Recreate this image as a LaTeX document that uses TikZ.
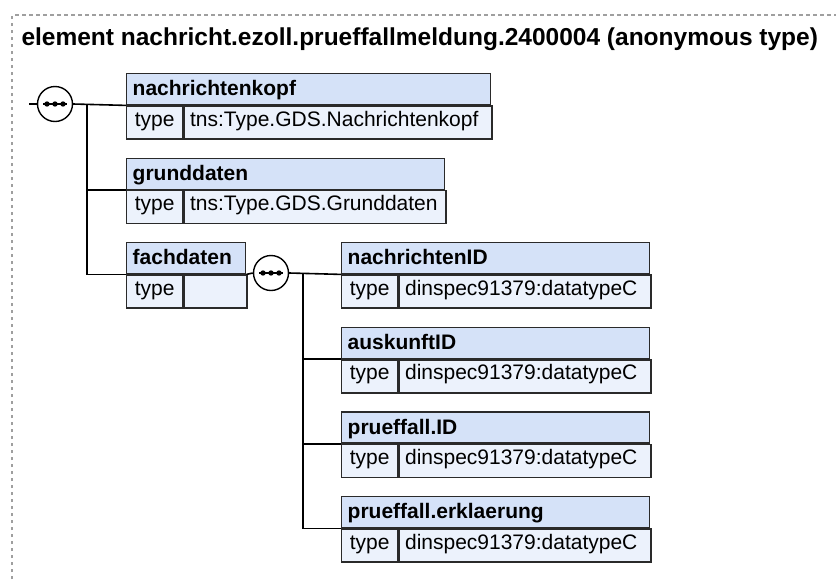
\documentclass[tikz,border=0pt]{standalone}
\usepackage{fontspec}
\setmainfont{Liberation Sans}
\usepackage{tikz}
\usetikzlibrary{positioning, calc}

\definecolor{hdrfill}{HTML}{D5E2F8}
\definecolor{rowfill}{HTML}{ECF2FC}
\definecolor{boxline}{HTML}{2A2A2A}

\newcommand{\seqdots}[1]{%
  \draw[line width=1.4pt] ([xshift=-12pt]#1.center) -- ([xshift=12pt]#1.center);
  \foreach \dx in {-8,0,8}
    \fill ([xshift=\dx pt]#1.center) circle (2.7pt);}

\begin{document}
\begin{tikzpicture}[x=1pt, y=-1pt,
  elem/.style={draw=boxline, fill=hdrfill, line width=1.4pt, anchor=north west,
               minimum height=31pt, inner xsep=6pt, inner ysep=0pt,
               text width=#1, align=left, text height=15pt, text depth=2pt,
               font=\bfseries\fontsize{21}{25}\selectfont},
  tkey/.style={draw=boxline, fill=rowfill, line width=1.4pt, anchor=north west,
               minimum width=56pt, minimum height=33pt, inner sep=0pt,
               text height=11pt, text depth=4pt, font=\fontsize{21}{25}\selectfont},
  tval/.style={tkey, minimum width=0pt, inner xsep=6pt, text width=#1, align=left},
  seq/.style={circle, draw, fill=white, line width=1.4pt, minimum size=35pt, inner sep=0pt},
  arr/.style={line width=1.6pt},
  frm/.style={draw=gray!75, line width=1.1pt, dash pattern=on 3.5pt off 3.5pt},
]
\useasboundingbox (0,0) rectangle (839,579);

% Frame and title
\draw[frm] (12,579) -- (12,15) -- (836,15);
\node[anchor=base west, font=\bfseries\fontsize{24.5}{29}\selectfont] (title) at (18,45)
  {element nachricht.ezoll.prueffallmeldung.2400004 (anonymous type)};

% Root sequence
\coordinate (in) at (29,104);
\node[seq] (s1) at (55,104) {};
\coordinate (j1) at (87,104);

% Level 1
\node[elem=352] (nk) at (126,73) {nachrichtenkopf};
\node[tkey] (nkk) at (nk.south west) {type};
\node[tval=296] (nkv) at (nkk.north east) {tns:Type.GDS.Nachrichtenkopf};

\node[elem=306] (gd) at (126,157.5) {grunddaten};
\node[tkey] (gdk) at (gd.south west) {type};
\node[tval=250] (gdv) at (gdk.north east) {tns:Type.GDS.Grunddaten};

\node[elem=107] (fd) at (126,242) {fachdaten};
\node[tkey] (fdk) at (fd.south west) {type};
\node[tval=51] (fdv) at (fdk.north east) {};

% Fachdaten sequence
\node[seq] (s2) at (271,273) {};
\coordinate (j2) at (303,273);

% Level 2
\node[elem=296] (ni) at (341,242) {nachrichtenID};
\node[tkey] (nik) at (ni.south west) {type};
\node[tval=240] (niv) at (nik.north east) {dinspec91379:datatypeC};

\node[elem=296] (ak) at (341,326.7) {auskunftID};
\node[tkey] (akk) at (ak.south west) {type};
\node[tval=240] (akv) at (akk.north east) {dinspec91379:datatypeC};

\node[elem=296] (pid) at (341,411.3) {prueffall.ID};
\node[tkey] (pidk) at (pid.south west) {type};
\node[tval=240] (pidv) at (pidk.north east) {dinspec91379:datatypeC};

\node[elem=296] (pe) at (341,496) {prueffall.erklaerung};
\node[tkey] (pek) at (pe.south west) {type};
\node[tval=240] (pev) at (pek.north east) {dinspec91379:datatypeC};

% Edges
\draw[arr] (in) -- (s1.west);
\draw[arr] (s1.east) -- (nk.south west);
\draw[arr] (j1) |- (gd.south west);
\draw[arr] (j1) |- (fd.south west);
\draw[arr] (fd.south east) -- (s2.west);
\draw[arr] (s2.east) -- (ni.south west);
\draw[arr] (j2) |- (ak.south west);
\draw[arr] (j2) |- (pid.south west);
\draw[arr] (j2) |- (pe.south west);

% Sequence markers
\seqdots{s1}
\seqdots{s2}
\end{tikzpicture}
\end{document}
